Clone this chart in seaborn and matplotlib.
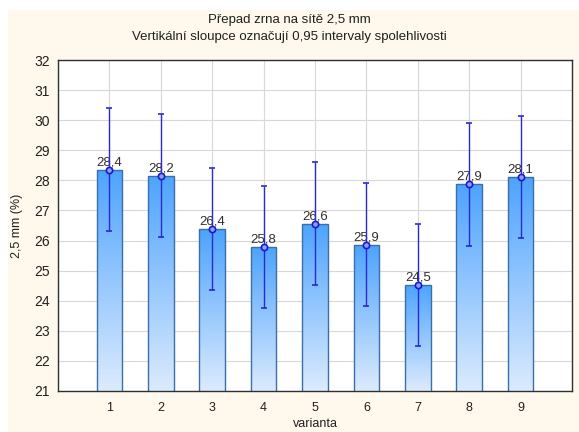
import numpy as np
import pandas as pd
import matplotlib
matplotlib.use("Agg")
import matplotlib.pyplot as plt
from matplotlib.patches import Rectangle
import seaborn as sns

variants = [1, 2, 3, 4, 5, 6, 7, 8, 9]
means = [28.36, 28.16, 26.38, 25.77, 26.56, 25.85, 24.52, 27.87, 28.10]
ci_low = [26.32, 26.12, 24.34, 23.75, 24.52, 23.84, 22.50, 25.83, 26.08]
ci_high = [30.41, 30.20, 28.42, 27.80, 28.60, 27.90, 26.55, 29.90, 30.14]

sns.set_theme(style="whitegrid")
plt.rcParams["font.family"] = ["Liberation Sans", "DejaVu Sans"]

df = pd.DataFrame({"varianta": variants, "mean": means})

fig = plt.figure(figsize=(5.79, 4.32), dpi=100)
fig.patch.set_facecolor("white")
# cream panel behind the chart
fig.patches.append(Rectangle((8 / 579, 0), 1, 1 - 10 / 432, transform=fig.transFigure,
                             facecolor="#fff8ec", edgecolor="none", zorder=-1))

ax = fig.add_axes([58 / 579, 41 / 432, 514 / 579, 331 / 432])
ax.set_facecolor("white")

sns.barplot(data=df, x="varianta", y="mean", native_scale=True, width=0.5,
            color="#4da3ff", edgecolor="#3b6fa8", linewidth=1.0, ax=ax, zorder=2)

ax.set_ylim(21, 32)
ax.set_xlim(0, 10)

# vertical gradient inside each bar
grad = np.linspace(0, 1, 256).reshape(-1, 1)
cmap = matplotlib.colors.LinearSegmentedColormap.from_list("bar", ["#dcebfd", "#4da3ff"])
for p in ax.patches:
    x0, w = p.get_x(), p.get_width()
    top = p.get_y() + p.get_height()
    im = ax.imshow(grad, extent=(x0, x0 + w, 21, top), origin="lower", cmap=cmap,
                   aspect="auto", zorder=2.1, vmin=0, vmax=1)
    im.set_clip_path(p)
    p.set_facecolor("none")
    p.set_zorder(2.2)

err = [np.array(means) - np.array(ci_low), np.array(ci_high) - np.array(means)]
ax.errorbar(variants, means, yerr=err, fmt="o", color="#2424c8", ecolor="#2a2ad0",
            elinewidth=1.0, capsize=2.5, capthick=0.9, markersize=4.5,
            markerfacecolor="#8aa0ff", markeredgecolor="#1a1acc", markeredgewidth=1.2,
            zorder=4)

for v, m in zip(variants, means):
    ax.text(v, m + 0.05, f"{m:.1f}".replace(".", ","), ha="center", va="bottom",
            fontsize=9.5, color="#303030", zorder=3)

ax.set_xlim(0, 10)
ax.set_ylim(21, 32)
ax.set_xticks(variants)
ax.set_yticks(range(21, 33))
ax.grid(True, color="#d8d8d8", linewidth=0.8)
ax.set_axisbelow(True)
for s in ax.spines.values():
    s.set_color("#303030")
    s.set_linewidth(1.0)
ax.tick_params(axis="x", direction="in", length=3, color="#555555", labelsize=9,
               labelcolor="#202020", pad=8, bottom=True)
ax.tick_params(axis="y", direction="out", length=0, labelsize=10,
               labelcolor="#202020", pad=6)
ax.set_xlabel("varianta", fontsize=9, color="#202020", labelpad=3)
ax.set_ylabel("2,5 mm (%)", fontsize=9, color="#202020", labelpad=8)

fig.text(0.5, 1 - 20 / 432, "Přepad zrna na sítě 2,5 mm", ha="center", va="center",
         fontsize=9.5, color="#202020")
fig.text(0.5, 1 - 37 / 432, "Vertikální sloupce označují 0,95 intervaly spolehlivosti",
         ha="center", va="center", fontsize=9.5, color="#202020")

fig.savefig("out.png", dpi=100, facecolor=fig.get_facecolor())
